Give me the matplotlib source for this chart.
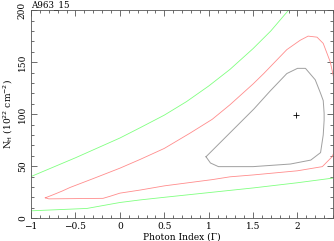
import matplotlib
matplotlib.use('Agg')
import matplotlib.pyplot as plt
from matplotlib.ticker import MultipleLocator

# contour levels: (photon index, N_H)
green_upper_x = [-1.0, -0.5, 0.0, 0.23, 0.5, 0.75, 1.0, 1.24, 1.5, 1.7, 1.9, 2.0]
green_upper_y = [40, 58, 77, 87, 99, 112, 127, 143, 163, 180, 200, 211]
green_lower_x = [-1.0, -0.37, 0.0, 0.23, 0.5, 1.0, 1.5, 2.0, 2.4]
green_lower_y = [7, 9.3, 15, 17.5, 20, 24.5, 29, 34, 38.5]

red_x = [-0.84, -0.75, -0.65, -0.56, -0.3, 0.0, 0.23, 0.5, 0.79, 1.04, 1.24, 1.5, 1.62,
         1.88, 2.03, 2.12, 2.22, 2.29, 2.37, 2.42,
         2.42, 2.39, 2.28, 2.0, 1.5, 1.24, 1.04, 0.5, 0.23, 0.0, -0.11, -0.19, -0.8, -0.84]
red_y = [19.5, 22.5, 26, 29.5, 38, 48, 56.5, 67, 81.7, 95, 109, 129, 139,
         162, 171, 175, 174, 168, 150, 130,
         65, 59, 49.5, 45.5, 41.5, 39.7, 37, 31, 27, 24, 21, 19, 18.5, 19.5]

gray_x = [0.97, 1.24, 1.51, 1.69, 1.88, 2.0, 2.09, 2.2, 2.26, 2.29, 2.30, 2.30, 2.29,
          2.26, 2.15, 1.92, 1.5, 1.11, 1.02, 0.97]
gray_y = [59, 82, 105, 122, 139, 144, 144, 133, 120, 113, 101, 94, 80,
          63, 55.8, 52, 49.5, 49.5, 53, 59]

best_x = [1.98]
best_y = [99]

plt.rcParams['font.family'] = 'DejaVu Serif'
plt.rcParams['font.size'] = 6.5

fig = plt.figure(figsize=(3.34, 2.41), dpi=100)
ax = fig.add_axes([0.093, 0.095, 0.904, 0.863])

ax.plot(green_upper_x, green_upper_y, color='#80ff80', lw=0.6)
ax.plot(green_lower_x, green_lower_y, color='#80ff80', lw=0.6)
ax.plot(red_x, red_y, color='#ff8c8c', lw=0.6)
ax.plot(gray_x, gray_y, color='#a0a0a0', lw=0.7)
ax.plot(best_x, best_y, marker='+', color='black', ms=4, mew=0.6, ls='none')

ax.set_xlim(-1, 2.4)
ax.set_ylim(0, 200)
ax.xaxis.set_major_locator(MultipleLocator(0.5))
ax.xaxis.set_minor_locator(MultipleLocator(0.1))
ax.yaxis.set_major_locator(MultipleLocator(50))
ax.yaxis.set_minor_locator(MultipleLocator(10))
ax.tick_params(which='both', direction='in', top=True, right=True, width=0.6, color='#555555')
ax.tick_params(which='major', length=4)
ax.tick_params(which='minor', length=2)
ax.tick_params(axis='x', pad=3)
ax.tick_params(axis='y', pad=3)
for lab in ax.get_yticklabels():
    lab.set_rotation(90)
    lab.set_va('center')
for sp in ax.spines.values():
    sp.set_linewidth(0.6)
    sp.set_color('#555555')

ax.set_xticks([-1, -0.5, 0, 0.5, 1, 1.5, 2])
ax.set_xticklabels(['\u22121', '\u22120.5', '0', '0.5', '1', '1.5', '2'])
ax.set_xlabel('Photon Index (\u0393)', labelpad=1)
ax.set_ylabel(r'N$_{\rm H}$ (10$^{22}$ cm$^{-2}$)', labelpad=2)
fig.text(0.093, 0.970, 'A963_15', fontsize=6.3, ha='left', va='baseline')

fig.savefig('out.png', dpi=100)
